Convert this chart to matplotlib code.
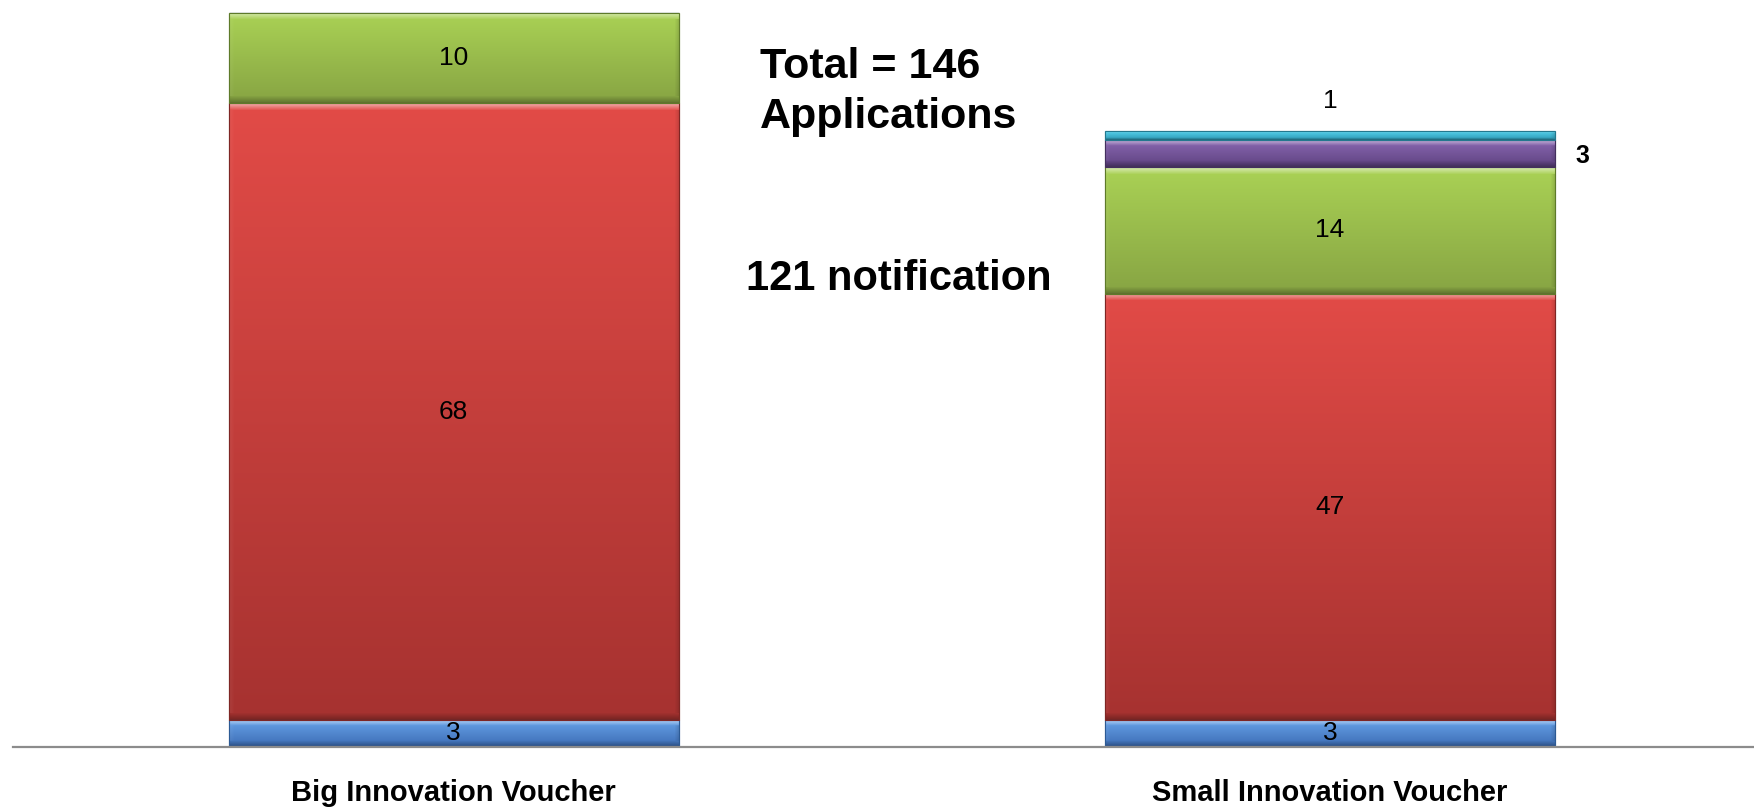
import numpy as np
import matplotlib
matplotlib.use("Agg")
import matplotlib.pyplot as plt
from matplotlib.colors import to_rgb

# ---------------- data ----------------
categories = ["Big Innovation Voucher", "Small Innovation Voucher"]
series_blue = [3, 3]
series_red = [68, 47]
series_green = [10, 14]
series_purple = [0, 3]
series_cyan = [0, 1]
series = [series_blue, series_red, series_green, series_purple, series_cyan]

# (top colour, bottom colour) of each series' gradient
grad_colors = [("#67A2E8", "#3D6DB5"),
               ("#E24B47", "#A63230"),
               ("#AAD255", "#87A443"),
               ("#8A68B2", "#5F4381"),
               ("#55D3EE", "#2F9DB8")]
edge_colors = ["#2C5A94", "#7E2624", "#5E7A2A", "#44305E", "#23788E"]

plt.rcParams['font.family'] = ['Liberation Sans', 'DejaVu Sans']

W, H = 1754, 810
fig = plt.figure(figsize=(W / 100, H / 100), dpi=100)
ax = fig.add_axes([13 / W, 63 / H, (W - 13) / W, 747 / H])
XLIM = (-0.503, 1.484)
YLIM = (0, 82.4)
ax.set_xlim(*XLIM)
ax.set_ylim(*YLIM)

x = np.arange(len(categories))
width = 0.514

px_per_x = ax.bbox.width / (XLIM[1] - XLIM[0])
px_per_y = ax.bbox.height / (YLIM[1] - YLIM[0])


def lighten(c, f):
    c = np.asarray(c)
    return c + (1 - c) * f


def darken(c, f):
    return np.asarray(c) * (1 - f)


def gradient_image(top, bot, hpx, wpx):
    hpx = max(int(round(hpx)), 2)
    wpx = max(int(round(wpx)), 2)
    t = np.linspace(0, 1, hpx)[:, None, None]
    img = np.asarray(to_rgb(top))[None, None, :] * (1 - t) + \
        np.asarray(to_rgb(bot))[None, None, :] * t
    img = np.repeat(img, wpx, axis=1)
    b = int(min(7, max(1, hpx / 4)))
    for i in range(b):
        f = 0.55 * (1 - i / b)
        img[i, :, :] = lighten(img[i, :, :], f)
        img[hpx - 1 - i, :, :] = darken(img[hpx - 1 - i, :, :], 0.28 * (1 - i / b))
    bs = 5
    for j in range(bs):
        f = 0.10 * (1 - j / bs)
        img[b:hpx - b, j, :] = lighten(img[b:hpx - b, j, :], f * 0.6)
        img[b:hpx - b, wpx - 1 - j, :] = darken(img[b:hpx - b, wpx - 1 - j, :], f * 1.4)
    return np.clip(img, 0, 1)


bottoms = np.zeros(len(categories))
for si, vals in enumerate(series):
    vals = np.asarray(vals, dtype=float)
    bars = ax.bar(x, vals, width, bottom=bottoms, color=grad_colors[si][0],
                  edgecolor=edge_colors[si], linewidth=0.8, zorder=2)
    for bi, (bar, v) in enumerate(zip(bars, vals)):
        if v <= 0:
            continue
        x0, y0 = bar.get_x(), bar.get_y()
        w, h = bar.get_width(), bar.get_height()
        img = gradient_image(grad_colors[si][0], grad_colors[si][1],
                             h * px_per_y, w * px_per_x)
        im = ax.imshow(img, extent=[x0, x0 + w, y0, y0 + h], origin='upper',
                       aspect='auto', zorder=3, interpolation='bilinear')
        im.set_clip_path(bar)
        ax.bar(x0 + w / 2, h, w, bottom=y0, color='none',
               edgecolor=edge_colors[si], linewidth=0.8, zorder=4)
        lbl = f"{int(v)}"
        if si == 3 and bi == 1:
            ax.text(x0 + w + 0.031, y0 + h / 2 - 0.3, lbl, ha='center', va='center',
                    fontsize=18, fontweight='bold', color='black', zorder=5)
        elif si == 4 and bi == 1:
            ax.text(x0 + w / 2, y0 + h + 3.3, lbl, ha='center', va='center',
                    fontsize=19, color='black', zorder=5)
        else:
            ax.text(x0 + w / 2, y0 + h / 2, lbl, ha='center', va='center',
                    fontsize=19, color='black', zorder=5)
    bottoms = bottoms + vals

ax.set_xlim(*XLIM)
ax.set_ylim(*YLIM)

for s in ['top', 'right', 'left']:
    ax.spines[s].set_visible(False)
ax.spines['bottom'].set_color('#8C8C8C')
ax.spines['bottom'].set_linewidth(1.6)
ax.spines['bottom'].set_zorder(6)
ax.set_yticks([])
ax.set_xticks(x)
ax.set_xticklabels(categories, fontsize=21, fontweight='bold')
ax.tick_params(axis='x', length=0, pad=23)

fig.text(760 / W, 1 - 67 / H, "Total = 146", ha='left', va='center',
         fontsize=31, fontweight='bold')
fig.text(760 / W, 1 - 117 / H, "Applications", ha='left', va='center',
         fontsize=31, fontweight='bold')
fig.text(746 / W, 1 - 279 / H, "121 notification", ha='left', va='center',
         fontsize=30, fontweight='bold')

fig.savefig("out.png", dpi=100, facecolor='white')
